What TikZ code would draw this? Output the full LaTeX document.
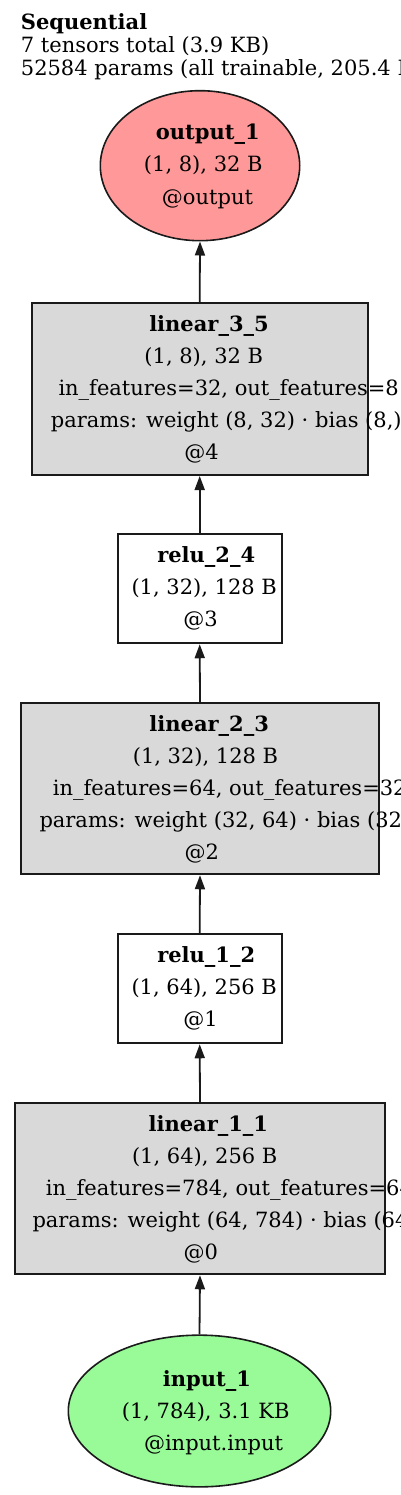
\documentclass[tikz,border=0pt]{standalone}
\usepackage{fontspec}
\setmainfont{DejaVu Serif}
\usetikzlibrary{arrows.meta,shapes.geometric}
\definecolor{gfill}{HTML}{D9D9D9}
\definecolor{pinkfill}{HTML}{FF9999}
\definecolor{greenfill}{HTML}{98FB98}
\definecolor{edgecol}{HTML}{1A1A1A}
\begin{document}
\begin{tikzpicture}[x=1pt,y=-1pt,
  txt/.style={anchor=base west,inner sep=0pt,font=\fontsize{21}{23}\selectfont},
  ctxt/.style={anchor=base,inner sep=0pt,font=\fontsize{21}{23}\selectfont},
  btxt/.style={anchor=base west,inner sep=0pt,font=\fontsize{21}{23}\selectfont\bfseries},
  cbtxt/.style={anchor=base,inner sep=0pt,font=\fontsize{21}{23}\selectfont\bfseries},
  layerbox/.style={draw=edgecol,line width=1.9pt,fill=gfill,rectangle,inner sep=0pt},
  relubox/.style={draw=edgecol,line width=1.9pt,fill=white,rectangle,inner sep=0pt},
  ovalnode/.style={draw=edgecol,line width=1.6pt,ellipse,inner sep=0pt},
  conn/.style={draw=edgecol,line width=1.8pt,-{Triangle[length=14pt,width=10pt]}}]
\useasboundingbox (0,0) rectangle (400,1495);
\clip (0,0) rectangle (400,1495);
\fill[white] (0,0) rectangle (400,1495);

% shapes
\node[ovalnode,fill=pinkfill,minimum width=199.4pt,minimum height=150pt] (out) at (200,165.7) {};
\node[layerbox,minimum width=336pt,minimum height=171.7pt] (lin35) at (199.7,389.2) {};
\node[relubox,minimum width=164pt,minimum height=109pt] (relu24) at (199.7,588.8) {};
\node[layerbox,minimum width=358.6pt,minimum height=171pt] (lin23) at (200,788.8) {};
\node[relubox,minimum width=164pt,minimum height=109pt] (relu12) at (199.7,988.8) {};
\node[layerbox,minimum width=370.6pt,minimum height=171pt] (lin11) at (200,1188.8) {};
\node[ovalnode,fill=greenfill,minimum width=262.4pt,minimum height=151.7pt] (inp) at (199.5,1411) {};

% connectors
\draw[conn] (inp.north) -- (lin11.south);
\draw[conn] (lin11.north) -- (relu12.south);
\draw[conn] (relu12.north) -- (lin23.south);
\draw[conn] (lin23.north) -- (relu24.south);
\draw[conn] (relu24.north) -- (lin35.south);
\draw[conn] (lin35.north) -- (out.south);

% title
\node[btxt] (t1) at (20.7,30) {Sequential};
\node[txt] (t2) at (20.7,53) {7 tensors total (3.9 KB)};
\node[txt] (t3) at (20.7,76) {52584 params (all trainable, 205.4 KB)};

% output
\node[cbtxt] (o1) at (207.8,139.5) {output\_1};
\node[ctxt] (o2) at (203.3,172) {(1, 8), 32 B};
\node[ctxt] (o3) at (207.5,204.5) {@output};

% linear_3_5
\node[cbtxt] (a1) at (209,331.5) {linear\_3\_5};
\node[ctxt] (a2) at (203.8,363.5) {(1, 8), 32 B};
\node[txt] (a3) at (58.3,395.5) {in\_features=32, out\_features=8};
\node[txt] (a4) at (50.7,427.5) {params: weight (8, 32) · bias (8,)};
\node[ctxt] (a5) at (201.5,459.5) {@4};

% relu_2_4
\node[cbtxt] (b1) at (206.2,562.7) {relu\_2\_4};
\node[ctxt] (b2) at (204.2,594.7) {(1, 32), 128 B};
\node[ctxt] (b3) at (200.5,626.7) {@3};

% linear_2_3
\node[cbtxt] (c1) at (209.2,731.5) {linear\_2\_3};
\node[ctxt] (c2) at (205.5,763.5) {(1, 32), 128 B};
\node[txt] (c3) at (52.7,795.5) {in\_features=64, out\_features=32};
\node[txt] (c4) at (39.3,827.5) {params: weight (32, 64) · bias (32,)};
\node[ctxt] (c5) at (201.7,859.5) {@2};

% relu_1_2
\node[cbtxt] (d1) at (206.2,962.7) {relu\_1\_2};
\node[ctxt] (d2) at (204.2,994.7) {(1, 64), 256 B};
\node[ctxt] (d3) at (200.5,1026.7) {@1};

% linear_1_1
\node[cbtxt] (e1) at (208.3,1131.5) {linear\_1\_1};
\node[ctxt] (e2) at (204.7,1163.5) {(1, 64), 256 B};
\node[txt] (e3) at (45.7,1195.5) {in\_features=784, out\_features=64};
\node[txt] (e4) at (32.3,1227.5) {params: weight (64, 784) · bias (64,)};
\node[ctxt] (e5) at (200.8,1259.5) {@0};

% input
\node[cbtxt] (i1) at (207,1386) {input\_1};
\node[ctxt] (i2) at (205.7,1418) {(1, 784), 3.1 KB};
\node[ctxt] (i3) at (213.5,1450) {@input.input};
\end{tikzpicture}
\end{document}
